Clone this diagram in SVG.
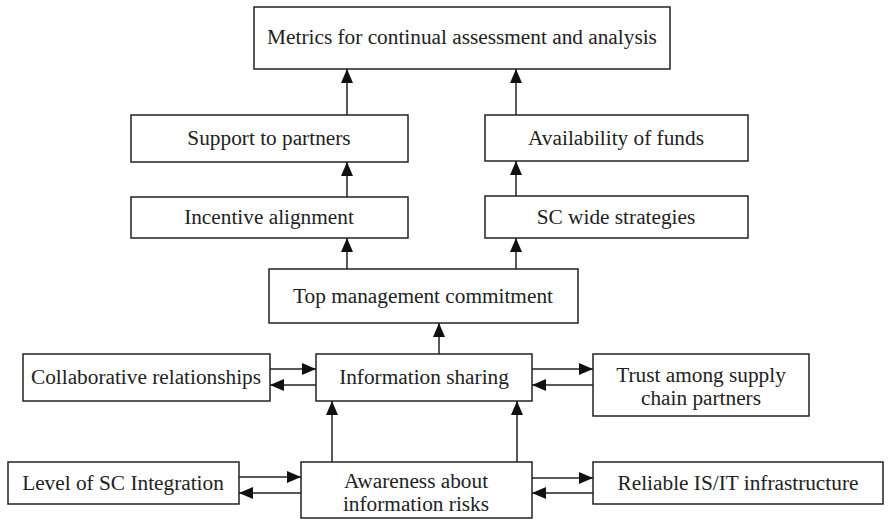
<svg xmlns="http://www.w3.org/2000/svg" width="890" height="519" viewBox="0 0 890 519">
<style>
.box{fill:#fff;stroke:#222;stroke-width:1.5}
.t{font-family:"Liberation Serif","Times New Roman",serif;font-size:21.3px;fill:#222;text-anchor:middle}
.c{stroke:#222;stroke-width:1.5;fill:none;marker-end:url(#ah)}
</style>
<defs>
<marker id="ah" markerUnits="userSpaceOnUse" viewBox="0 0 14 12" refX="14" refY="6" markerWidth="14" markerHeight="12" orient="auto">
<path d="M0,0 L14,6 L0,12 Z" fill="#111"/>
</marker>
</defs>
<rect width="890" height="519" fill="#fff"/>
<g id="connectors">
<line class="c" x1="347" y1="115" x2="347" y2="69"/>
<line class="c" x1="516" y1="115" x2="516" y2="69"/>
<line class="c" x1="347" y1="197" x2="347" y2="162"/>
<line class="c" x1="516" y1="196" x2="516" y2="161"/>
<line class="c" x1="347" y1="269" x2="347" y2="238"/>
<line class="c" x1="516" y1="269" x2="516" y2="238"/>
<line class="c" x1="439" y1="354" x2="439" y2="323"/>
<line class="c" x1="270" y1="369" x2="316" y2="369"/>
<line class="c" x1="316" y1="385" x2="270" y2="385"/>
<line class="c" x1="532" y1="369" x2="593" y2="369"/>
<line class="c" x1="593" y1="385" x2="532" y2="385"/>
<line class="c" x1="332" y1="462" x2="332" y2="401"/>
<line class="c" x1="517" y1="462" x2="517" y2="401"/>
<line class="c" x1="239" y1="477" x2="301" y2="477"/>
<line class="c" x1="301" y1="493" x2="239" y2="493"/>
<line class="c" x1="532" y1="478" x2="593" y2="478"/>
<line class="c" x1="593" y1="493" x2="532" y2="493"/>
</g>
<g id="metrics"><rect class="box" x="254" y="7" width="416" height="62"/><text class="t" x="462" y="44">Metrics for continual assessment and analysis</text></g>
<g id="support"><rect class="box" x="131" y="115" width="277" height="47"/><text class="t" x="269" y="145">Support to partners</text></g>
<g id="funds"><rect class="box" x="485" y="115" width="263" height="46"/><text class="t" x="616" y="145">Availability of funds</text></g>
<g id="incentive"><rect class="box" x="131" y="197" width="277" height="41"/><text class="t" x="269" y="224">Incentive alignment</text></g>
<g id="scwide"><rect class="box" x="485" y="196" width="263" height="42"/><text class="t" x="616" y="224">SC wide strategies</text></g>
<g id="topmgmt"><rect class="box" x="269" y="269" width="309" height="54"/><text class="t" x="423" y="303">Top management commitment</text></g>
<g id="collab"><rect class="box" x="23" y="354" width="247" height="47"/><text class="t" x="146" y="384">Collaborative relationships</text></g>
<g id="infoshare"><rect class="box" x="316" y="354" width="216" height="47"/><text class="t" x="424" y="384">Information sharing</text></g>
<g id="trust"><rect class="box" x="593" y="354" width="216" height="62"/><text class="t" x="701" y="382">Trust among supply</text><text class="t" x="701" y="405">chain partners</text></g>
<g id="level"><rect class="box" x="8" y="462" width="231" height="42"/><text class="t" x="123" y="490">Level of SC Integration</text></g>
<g id="awareness"><rect class="box" x="301" y="462" width="231" height="56"/><text class="t" x="416" y="488">Awareness about</text><text class="t" x="416" y="511">information risks</text></g>
<g id="reliable"><rect class="box" x="593" y="462" width="290" height="42"/><text class="t" x="738" y="490">Reliable IS/IT infrastructure</text></g>
</svg>
